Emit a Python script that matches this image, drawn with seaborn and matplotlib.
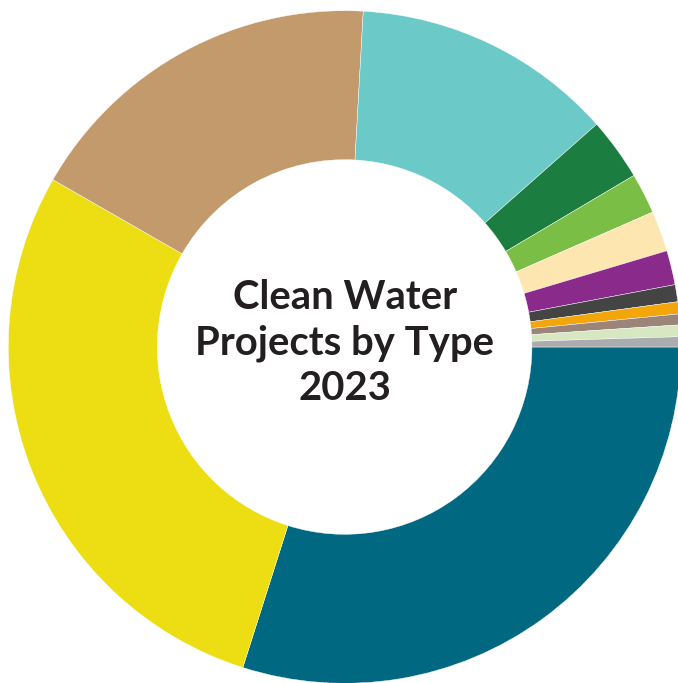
import matplotlib
matplotlib.use("Agg")
import matplotlib.pyplot as plt
import seaborn as sns

categories = ["Type A", "Type B", "Type C", "Type D", "Type E", "Type F", "Type G",
              "Type H", "Type I", "Type J", "Type K", "Type L", "Type M"]
shares = [29.9, 28.4, 17.6, 12.6, 3.0, 1.95, 1.95, 1.65, 0.82, 0.58, 0.52, 0.56, 0.49]
colors = ["#006880", "#ECDE12", "#C39A6B", "#6BC9C8", "#1B7D3F", "#7BBE45", "#FDE6AF",
          "#8A2A8A", "#444444", "#F3A60B", "#9B8579", "#D6E7C2", "#ABACAE"]
title_lines = ["Clean Water", "Projects by Type", "2023"]

sns.set_theme(style="white")
plt.rcParams["font.family"] = ["Lato", "DejaVu Sans"]

W, H = 678, 683
fig = plt.figure(figsize=(W / 100, H / 100), dpi=100)
cx, cy, R = 344.6, 347.0, 336.3
ax = fig.add_axes([(cx - R) / W, (H - cy - R) / H, 2 * R / W, 2 * R / H])

palette = sns.color_palette(colors)
ax.pie(shares, colors=palette, startangle=0, counterclock=False, radius=1.0,
       wedgeprops=dict(width=0.443, edgecolor="white", linewidth=0.3))
ax.set_xlim(-1, 1)
ax.set_ylim(-1, 1)
ax.set_aspect("auto")
ax.axis("off")

ax.text(0, 0.012, "\n".join(title_lines), ha="center", va="center",
        fontsize=28.8, fontweight="bold", color="#231F20", linespacing=1.29)

fig.savefig("out.png", dpi=100, facecolor="white")
